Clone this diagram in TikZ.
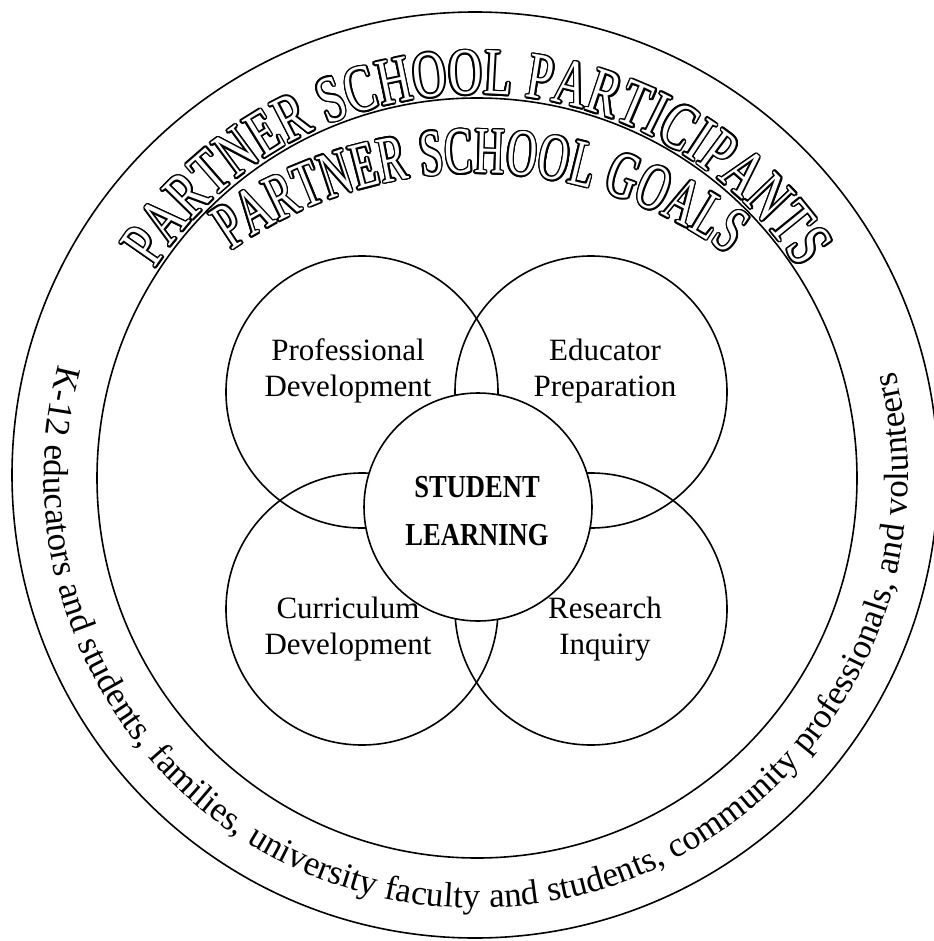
\documentclass[tikz,border=0pt]{standalone}
\usepackage{fontspec}
\setmainfont{Liberation Serif}
\newfontfamily\hollowouter[FakeStretch=0.70]{Liberation Serif}
\newfontfamily\hollowinner[FakeStretch=0.63]{Liberation Serif}
\newfontfamily\condbold[FakeStretch=0.83]{Liberation Serif}
\usetikzlibrary{decorations.text}
\begin{document}
\begin{tikzpicture}[x=1pt,y=1pt,
  ring/.style={draw, line width=1.6pt, circle, inner sep=0pt},
  goal/.style={ring, minimum size=272pt},
  goaltext/.style={align=center, font=\fontsize{31}{36}\selectfont, inner sep=0pt},
  hollow/.style={decorate, decoration={text along path, text align=fit to path, text color=#1}},
  hollow/.default=black
]
\useasboundingbox (0,0) rectangle (933,-941);
\fill[white] (0,0) rectangle (933,-941);
% rings
\node[ring, minimum size=926pt] (outer) at (475,-475) {};
\node[ring, minimum size=760pt] (inner) at (477,-478) {};
% goal circles
\node[goal] (pd) at (362,-392) {};
\node[goal] (ep) at (591,-392) {};
\node[goal] (cd) at (362,-609) {};
\node[goal] (ri) at (591,-609) {};
\node[goaltext] (pdt) at (348,-370.8) {Professional\\Development};
\node[goaltext] (ept) at (605,-370.8) {Educator\\Preparation};
\node[goaltext] (cdt) at (348,-628.7) {Curriculum\\Development};
\node[goaltext] (rit) at (605,-628.7) {Research\\Inquiry};
% centre
\node[ring, fill=white, minimum size=228pt] (sl) at (478,-507) {};
\node[align=center, inner sep=0pt, font=\condbold\bfseries\fontsize{32}{48}\selectfont] (slt) at (477,-511.5) {STUDENT\\LEARNING};
% curved titles (outlined letters: black copies around a white copy)
\coordinate (Cbot) at (476,-476);
\foreach \a in {0,22.5,...,337.5}{
  \path[hollow, shift={(\a:1.6)},
        decoration={text={|\hollowouter\fontsize{66}{66}\selectfont|PARTNER SCHOOL PARTICIPANTS}}]
    ([shift={(147:384)}]477,-478) arc[start angle=147, end angle=33, radius=384];
  \path[hollow, shift={(\a:1.6)},
        decoration={text={|\hollowinner\fontsize{66}{66}\selectfont|PARTNER SCHOOL GOALS}}]
    ([shift={(125:428)}]477,-601) arc[start angle=125, end angle=54, radius=428];
}
\path[hollow=white,
      decoration={text={|\hollowouter\fontsize{66}{66}\selectfont|PARTNER SCHOOL PARTICIPANTS}}]
  ([shift={(147:384)}]477,-478) arc[start angle=147, end angle=33, radius=384];
\path[hollow=white,
      decoration={text={|\hollowinner\fontsize{66}{66}\selectfont|PARTNER SCHOOL GOALS}}]
  ([shift={(125:428)}]477,-601) arc[start angle=125, end angle=54, radius=428];
% participants list
\path[decorate,
      decoration={text along path, text align=fit to path stretching spaces,
        text={|\fontsize{35}{35}\selectfont|K-12 educators and students, families, university faculty and students, community professionals, and volunteers}}]
  ([shift={(165:432)}]Cbot) arc[start angle=165, end angle=374, radius=432];
\end{tikzpicture}
\end{document}
